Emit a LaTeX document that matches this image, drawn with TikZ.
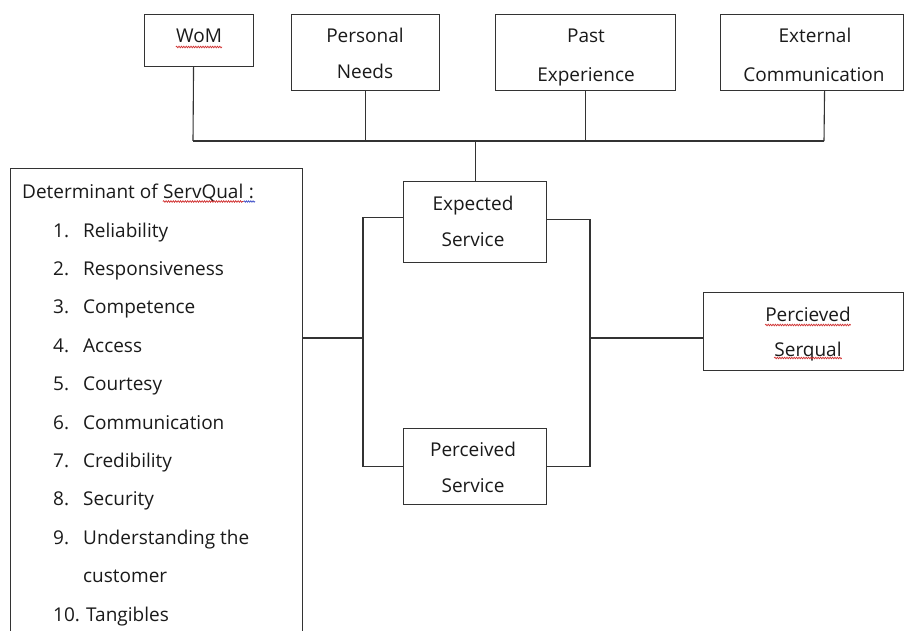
\documentclass[tikz,border=0pt]{standalone}
\usepackage{fontspec}
\setmainfont{Open Sans}
\usetikzlibrary{decorations.pathmorphing}
\definecolor{linec}{HTML}{333333}
\definecolor{textc}{HTML}{1A1A1A}
\definecolor{spellred}{HTML}{D03030}
\definecolor{gramblue}{HTML}{4050C8}
\begin{document}
\begin{tikzpicture}[x=1pt,y=-1pt,
  box/.style={draw=linec, line width=1.1pt, inner sep=0pt, anchor=north west},
  txt/.style={anchor=base, inner sep=0pt, font=\fontsize{19}{23}\selectfont, text=textc},
  lst/.style={anchor=base west, inner sep=0pt, font=\fontsize{19}{23}\selectfont, text=textc},
  wire/.style={draw=linec, line width=1.1pt},
  wavy/.style={draw=spellred, line width=0.7pt, decorate, decoration={snake, amplitude=0.8pt, segment length=2.4pt}},
  gram/.style={draw=gramblue, line width=0.7pt, decorate, decoration={snake, amplitude=0.7pt, segment length=2.2pt}}]
\useasboundingbox (0,0) rectangle (904,631);
\clip (0,0) rectangle (904,631);
\fill[white] (0,0) rectangle (904,631);

% top boxes
\node[box, minimum width=109pt, minimum height=52pt] (wom) at (144,14) {};
\node[box, minimum width=148pt, minimum height=76pt] (pn) at (291,14) {};
\node[box, minimum width=180pt, minimum height=76pt] (pe) at (495,14) {};
\node[box, minimum width=183pt, minimum height=76pt] (ec) at (720,14) {};
% middle boxes
\node[box, minimum width=143pt, minimum height=81pt] (es) at (403,181) {};
\node[box, minimum width=143pt, minimum height=76pt] (ps) at (403,428) {};
\node[box, minimum width=200pt, minimum height=78pt] (pq) at (703,292) {};
% determinant box
\node[box, minimum width=292pt, minimum height=480pt] (det) at (10,168) {};

% texts of boxes
\node[txt] (womT) at (199,43) {WoM};
\node[txt] (pnT1) at (365,43) {Personal};
\node[txt] (pnT2) at (365,79) {Needs};
\node[txt] (peT1) at (586,43) {Past};
\node[txt] (peT2) at (586,82) {Experience};
\node[txt] (ecT1) at (815,43) {External};
\node[txt] (ecT2) at (814,82) {Communication};
\node[txt] (esT1) at (473,211) {Expected};
\node[txt] (esT2) at (473,246) {Service};
\node[txt] (psT1) at (473,456) {Perceived};
\node[txt] (psT2) at (473,492) {Service};
\node[txt] (pqT1) at (808,321) {Percieved};
\node[txt] (pqT2) at (808,356) {Serqual};

% determinant list
\node[lst] (hdrA) at (22,198) {Determinant of};
\node[lst] (hdrB) at ([xshift=5pt]hdrA.base east) {ServQual};
\node[lst] (hdrC) at ([xshift=5pt]hdrB.base east) {:};
\foreach \n/\t [count=\i] in {1./Reliability, 2./Responsiveness, 3./Competence, 4./Access, 5./Courtesy, 6./Communication, 7./Credibility, 8./Security, 9./Understanding the}{
  \node[lst] (num\i) at (53,{237+38.4*(\i-1)}) {\n};
  \node[lst] (item\i) at (83,{237+38.4*(\i-1)}) {\t};
}
\node[lst] (item9b) at (83,582.6) {customer};
\node[lst] (num10) at (53,621) {10.};
\node[lst] (item10) at (86,621) {Tangibles};

% spell-check underlines
\draw[wavy] ([yshift=-4pt]womT.base west) -- ([yshift=-4pt]womT.base east);
\draw[wavy] ([yshift=-3.5pt]hdrB.base west) -- ([yshift=-3.5pt]hdrB.base east);
\draw[gram] ([yshift=-3.5pt]hdrB.base east) -- ([yshift=-3.5pt,xshift=1pt]hdrC.base east);
\draw[wavy] ([yshift=-4pt]pqT1.base west) -- ([yshift=-4pt]pqT1.base east);
\draw[wavy] ([yshift=-2pt]pqT2.base west) -- ([yshift=-2pt]pqT2.base east);

% bus from the four influences
\coordinate (busL) at (193,141);
\coordinate (busR) at (824,141);
\draw[wire] (busL) -- (busR);
\draw[wire] ([xshift=-5.5pt]wom.south) -- (busL);
\draw[wire] (pn.south) -- (pn.south |- busL);
\draw[wire] (pe.south) -- (pe.south |- busL);
\draw[wire] ([xshift=12.5pt]ec.south) -- (busR);
\draw[wire] (es.north) -- (es.north |- busL);

% left bracket
\coordinate (lbr) at (363,338);
\draw[wire] ([yshift=4.3pt]es.west) -| (lbr) |- (ps.west);
\draw[wire] (det.east |- lbr) -- (lbr);
% right bracket
\coordinate (rbr) at (590,338);
\draw[wire] ([yshift=2.5pt]es.east) -| (rbr) |- (ps.east);
\draw[wire] (rbr) -- (pq.west |- rbr);
\end{tikzpicture}
\end{document}
